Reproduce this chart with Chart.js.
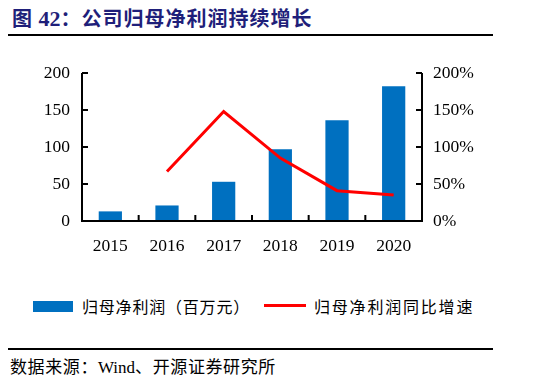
<!DOCTYPE html>
<html><head><meta charset="utf-8">
<script src="https://cdn.jsdelivr.net/npm/chart.js@4.4.0/dist/chart.umd.min.js"></script>
<style>
html,body{margin:0;padding:0;background:#fff;width:550px;height:383px;overflow:hidden;position:relative;}
#title{position:absolute;left:12px;top:5px;font-family:"Noto Sans CJK SC";font-weight:bold;font-size:20px;color:#1f1f7a;line-height:26px;white-space:nowrap;letter-spacing:1px;}
#title .n{font-family:"Liberation Serif";font-weight:bold;font-size:22px;letter-spacing:0;}
.rule{position:absolute;left:8px;width:485px;height:2px;background:#000;}
#wrap{position:absolute;left:0;top:0;width:550px;height:270px;}
#legend{position:absolute;left:0;top:295px;width:550px;height:24px;font-family:"Noto Sans CJK SC";font-size:16px;color:#000;}
#legend .box{position:absolute;left:33px;top:6px;width:40px;height:11px;background:#0070C0;}
#legend .t1{position:absolute;left:82px;top:0;line-height:22px;white-space:nowrap;letter-spacing:0.8px;}
#legend .ln{position:absolute;left:264px;top:9px;width:42px;height:3px;background:#FF0000;}
#legend .t2{position:absolute;left:314px;top:0;line-height:22px;white-space:nowrap;letter-spacing:1.8px;}
#src{position:absolute;left:10px;top:355px;font-family:"Noto Sans CJK SC";font-size:17px;line-height:22px;color:#000;white-space:nowrap;letter-spacing:0.6px;}
#src .w{font-family:"Liberation Serif";font-size:17px;letter-spacing:0;}
</style></head>
<body>
<div id="title">图 <span class="n">42</span>：公司归母净利润持续增长</div>
<div class="rule" style="top:34px"></div>
<div id="wrap"><canvas id="c" width="550" height="270"></canvas></div>
<div id="legend"><div class="box"></div><div class="t1">归母净利润（百万元）</div><div class="ln"></div><div class="t2">归母净利润同比增速</div></div>
<div class="rule" style="top:348px"></div>
<div id="src">数据来源：<span class="w">Wind</span>、开源证券研究所</div>
<script>
const categories = ['2015','2016','2017','2018','2019','2020'];
const netProfit = [13, 21, 53, 97, 136, 182];
const growthPct = [null, 67, 148, 85, 41, 35];
const leftTicks = [0, 50, 100, 150, 200];
const rightTicks = [0, 50, 100, 150, 200];

const innerTicks = {
  id: 'innerTicks',
  afterDraw(chart) {
    const ctx = chart.ctx;
    const x = chart.scales.x, yl = chart.scales.y, yr = chart.scales.y1;
    const ca = chart.chartArea;
    ctx.save();
    ctx.strokeStyle = '#000';
    ctx.lineWidth = 2;
    ctx.beginPath();
    ctx.moveTo(ca.left, ca.top); ctx.lineTo(ca.left, ca.bottom);
    ctx.moveTo(ca.right, ca.top); ctx.lineTo(ca.right, ca.bottom);
    ctx.moveTo(ca.left - 1, ca.bottom); ctx.lineTo(ca.right + 1, ca.bottom);
    yl.ticks.forEach((t, i) => {
      const py = yl.getPixelForTick(i);
      ctx.moveTo(ca.left, py); ctx.lineTo(ca.left + 6, py);
    });
    yr.ticks.forEach((t, i) => {
      const py = yr.getPixelForTick(i);
      ctx.moveTo(ca.right, py); ctx.lineTo(ca.right - 6, py);
    });
    for (let i = 1; i < categories.length; i++) {
      const px = (x.getPixelForValue(i - 1) + x.getPixelForValue(i)) / 2;
      ctx.moveTo(px, ca.bottom); ctx.lineTo(px, ca.bottom - 6);
    }
    ctx.stroke();
    ctx.restore();
  }
};

new Chart(document.getElementById('c'), {
  data: {
    labels: categories,
    datasets: [
      { type: 'line', label: '归母净利润同比增速', data: growthPct, yAxisID: 'y1',
        borderColor: '#FF0000', borderWidth: 3, pointRadius: 0, tension: 0, order: 0 },
      { type: 'bar', label: '归母净利润（百万元）', data: netProfit, yAxisID: 'y',
        backgroundColor: '#0070C0', categoryPercentage: 1, barPercentage: 0.41, order: 1 }
    ]
  },
  options: {
    responsive: false,
    animation: false,
    layout: { padding: { top: 73, bottom: 0, left: 0, right: 0 } },
    plugins: { legend: { display: false }, tooltip: { enabled: false } },
    scales: {
      x: {
        grid: { display: false, drawTicks: false }, border: { display: false },
        ticks: { color: '#000', padding: 15, font: { family: 'Liberation Serif', size: 17.5 } },
        afterFit(s) { s.height = 49; }
      },
      y: {
        position: 'left', min: 0, max: 200,
        afterBuildTicks(s) { s.ticks = leftTicks.map(v => ({ value: v })); },
        grid: { display: false, drawTicks: false }, border: { display: false },
        ticks: { color: '#000', padding: 12, font: { family: 'Liberation Serif', size: 17.5 } },
        afterFit(s) { s.width = 82; }
      },
      y1: {
        position: 'right', min: 0, max: 200,
        afterBuildTicks(s) { s.ticks = rightTicks.map(v => ({ value: v })); },
        grid: { display: false, drawTicks: false }, border: { display: false },
        ticks: { color: '#000', padding: 11, font: { family: 'Liberation Serif', size: 17.5 },
                 callback: v => v + '%' },
        afterFit(s) { s.width = 128; }
      }
    }
  },
  plugins: [innerTicks]
});
</script>
</body></html>
